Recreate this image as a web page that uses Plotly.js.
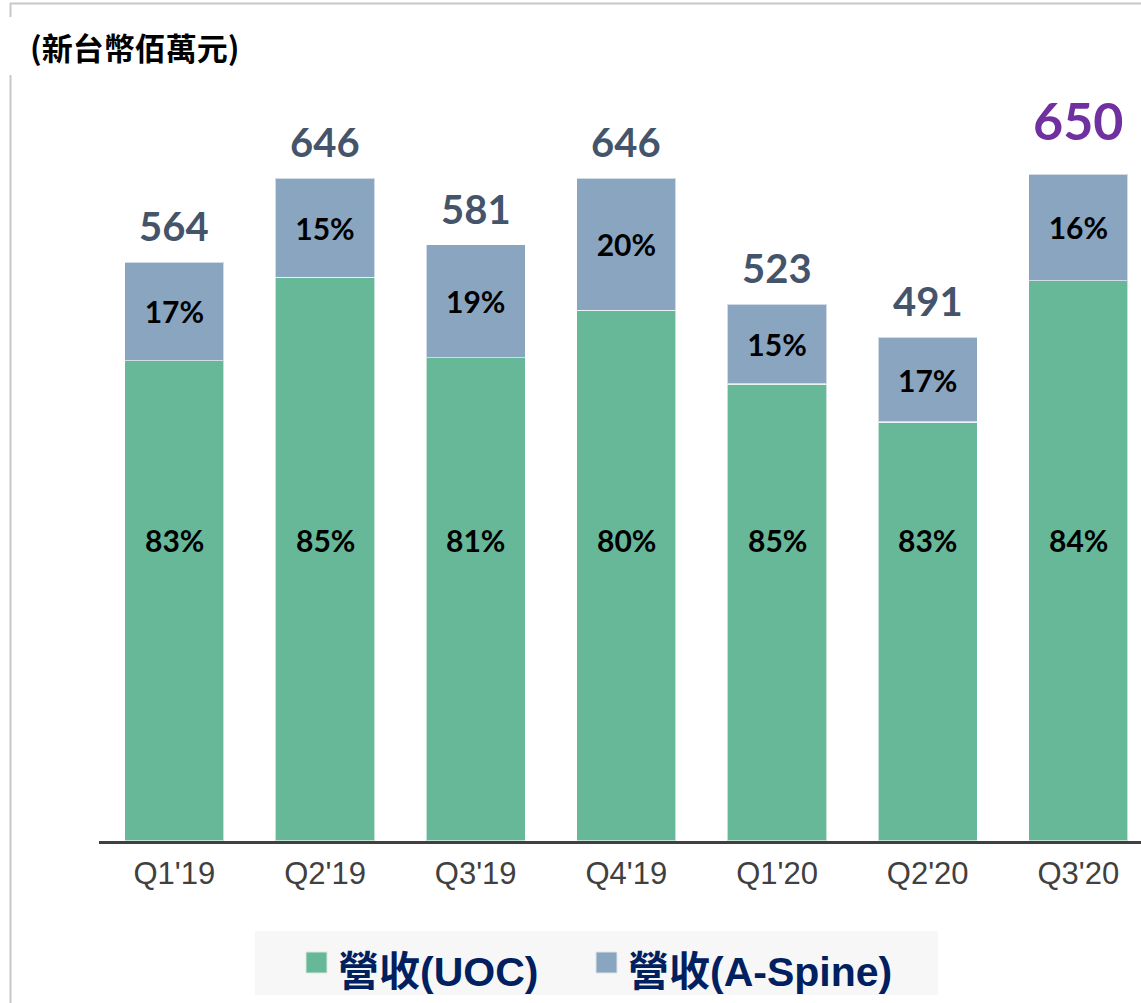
<!DOCTYPE html>
<html>
<head>
<meta charset="utf-8">
<script src="https://cdn.plot.ly/plotly-3.0.1.min.js"></script>
<style>
  html, body { margin: 0; padding: 0; background: #fff; }
  #chart { width: 1141px; height: 1003px; }
</style>
</head>
<body>
<div id="chart"></div>
<script>
// quarters
var quarters = ["Q1'19", "Q2'19", "Q3'19", "Q4'19", "Q1'20", "Q2'20", "Q3'20"];
// revenue split, NT$ millions
var uocRevenue   = [468, 549, 471, 517, 445, 408, 546];
var spineRevenue = [96, 97, 110, 129, 78, 83, 104];
// labels shown on the bars
var uocShare   = ['83%', '85%', '81%', '80%', '85%', '83%', '84%'];
var spineShare = ['17%', '15%', '19%', '20%', '15%', '17%', '16%'];
var totalLabels = ['564', '646', '581', '646', '523', '491', '650'];

var W = 1141, H = 1003;
var M = {l: 99, r: 0, t: 80, b: 162};
var plotW = W - M.l - M.r, plotH = H - M.t - M.b;
// page pixel -> paper coords (only for frame, title and legend)
function px(x) { return (x - M.l) / plotW; }
function py(y) { return (H - M.b - y) / plotH; }

var numFont = 'Lato, "Open Sans", sans-serif';
var barLine = {color: 'rgba(255,255,255,0.6)', width: 1.5};

var uoc = {
  type: 'bar',
  name: '營收(UOC)',
  x: quarters,
  y: uocRevenue,
  marker: {color: '#67b899', line: barLine},
  hoverinfo: 'x+y'
};

var spine = {
  type: 'bar',
  name: '營收(A-Spine)',
  x: quarters,
  y: spineRevenue,
  text: spineShare,
  textposition: 'inside',
  insidetextanchor: 'middle',
  textangle: 0,
  constraintext: 'none',
  textfont: {family: numFont, size: 30, color: '#000', weight: 'bold'},
  marker: {color: '#8aa5c0', line: barLine},
  hoverinfo: 'x+y'
};

var annotations = [];
quarters.forEach(function (q, i) {
  var last = i === quarters.length - 1;
  annotations.push({
    x: q, y: uocRevenue[i] + spineRevenue[i],
    text: totalLabels[i],
    showarrow: false,
    yanchor: 'middle',
    yshift: last ? 54 : 36,
    font: {family: numFont, size: last ? 52 : 40, color: last ? '#7030a0' : '#44546a', weight: 'bold'}
  });
  annotations.push({
    x: q, y: 293,
    text: uocShare[i],
    showarrow: false,
    yanchor: 'middle',
    font: {family: numFont, size: 30, color: '#000', weight: 'bold'}
  });
});

// unit title
annotations.push({
  xref: 'paper', yref: 'paper', x: px(28), y: py(47),
  xanchor: 'left', yanchor: 'middle', showarrow: false,
  text: '(新台幣佰萬元)',
  font: {family: '"Noto Sans CJK TC", sans-serif', size: 31, color: '#000', weight: 'bold'}
});

// legend text
var legendFont = {family: '"Liberation Sans", Arial, "Noto Sans CJK TC", sans-serif', size: 41, color: '#002060', weight: 'bold'};
annotations.push({
  xref: 'paper', yref: 'paper', x: px(336), y: py(972),
  xanchor: 'left', yanchor: 'middle', showarrow: false,
  text: '營收(UOC)', font: legendFont
});
annotations.push({
  xref: 'paper', yref: 'paper', x: px(626), y: py(972),
  xanchor: 'left', yanchor: 'middle', showarrow: false,
  text: '營收(A-Spine)', font: legendFont
});

var frame = {color: '#c8c8c8', width: 2};
var shapes = [
  // outer frame
  {type: 'line', xref: 'paper', yref: 'paper', x0: px(10), x1: px(1141), y0: py(3.5), y1: py(3.5), line: frame, layer: 'below'},
  {type: 'line', xref: 'paper', yref: 'paper', x0: px(10.5), x1: px(10.5), y0: py(3), y1: py(17), line: frame, layer: 'below'},
  {type: 'line', xref: 'paper', yref: 'paper', x0: px(10.5), x1: px(10.5), y0: py(75), y1: py(1003), line: frame, layer: 'below'},
  // legend box
  {type: 'rect', xref: 'paper', yref: 'paper', x0: px(255), x1: px(938), y0: py(995), y1: py(931),
   fillcolor: '#f7f7f7', line: {width: 0}, layer: 'below'},
  {type: 'rect', xref: 'paper', yref: 'paper', x0: px(306), x1: px(327), y0: py(973), y1: py(952),
   fillcolor: '#67b899', line: {color: '#d8e8e0', width: 1}},
  {type: 'rect', xref: 'paper', yref: 'paper', x0: px(596), x1: px(617), y0: py(973), y1: py(952),
   fillcolor: '#8aa5c0', line: {color: '#dde3ea', width: 1}}
];

var layout = {
  width: W, height: H,
  margin: M,
  barmode: 'stack',
  bargap: 0.34,
  showlegend: false,
  paper_bgcolor: '#fff',
  plot_bgcolor: '#fff',
  xaxis: {
    range: [-0.5, -0.5 + plotW / 150.67],
    showline: true, linecolor: '#404040', linewidth: 3,
    ticks: '', showgrid: false, zeroline: false,
    ticklabelstandoff: 3,
    tickfont: {family: '"Liberation Sans", Arial, sans-serif', size: 31, color: '#404040'},
    fixedrange: true
  },
  yaxis: {
    range: [0, plotH / 1.0265],
    visible: false, showgrid: false, zeroline: false,
    fixedrange: true
  },
  annotations: annotations,
  shapes: shapes
};

Plotly.newPlot('chart', [uoc, spine], layout, {displayModeBar: false, staticPlot: true});
</script>
</body>
</html>
